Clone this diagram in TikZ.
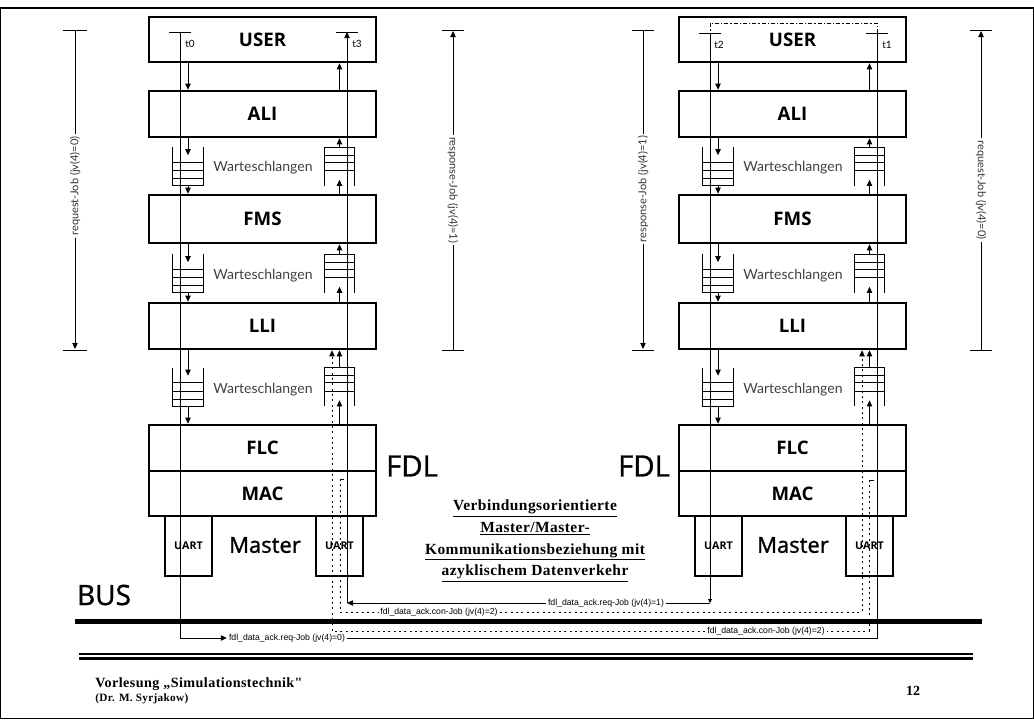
\documentclass[tikz,border=0pt]{standalone}
\usepackage{fontspec}
\setmainfont{Liberation Serif}
\newfontfamily\boxfont{Open Sans}
\newfontfamily\medfont[FakeBold=1.2]{Open Sans}
\newfontfamily\thinfont{Lato}
\newfontfamily\smallfont{Liberation Sans}
\newfontfamily\spacedserif[LetterSpace=3]{Liberation Serif}
\usetikzlibrary{arrows.meta,calc}
\tikzset{
  layer/.style={draw,line width=1.9pt,minimum width=170.25pt,inner sep=0pt,
    font=\boxfont\bfseries\fontsize{14}{16}\selectfont},
  uartbox/.style={draw,line width=1.9pt,minimum width=35.25pt,minimum height=45pt,inner sep=0pt,
    font=\boxfont\bfseries\fontsize{8}{9}\selectfont},
  qbox/.style={minimum width=22.5pt,minimum height=28.5pt,inner sep=0pt},
  thinln/.style={line width=0.75pt},
  arr/.style={thinln,-{Triangle[length=4.5pt,width=4pt]}},
  smallarr/.style={thinln,-{Triangle[length=3pt,width=3pt]}},
  dotln/.style={line width=0.75pt,dash pattern=on 1.5pt off 2.5pt},
  dotarr/.style={dotln,-{Triangle[length=4.5pt,width=4pt]}},
  dashdotln/.style={line width=0.7pt,dash pattern=on 3pt off 1.6pt on 0.8pt off 1.6pt},
  wq/.style={font=\thinfont\fontsize{10.5}{12}\selectfont,text=black!75,inner sep=0pt},
  tlab/.style={font=\thinfont\fontsize{7.5}{9}\selectfont,inner sep=0pt,anchor=west},
  joblab/.style={font=\smallfont\fontsize{6.5}{7}\selectfont,inner sep=1.5pt},
  annot/.style={font=\thinfont\fontsize{8.25}{10}\selectfont,text=black!80,inner sep=1.5pt},
  biglab/.style={font=\medfont\fontsize{#1}{#1}\selectfont,inner sep=0pt},
}
\newcommand\downqueue[1]{%
  \draw[thinln] (#1.north west) -- (#1.south west) -- (#1.south east) -- (#1.north east);
  \foreach \fr in {0.184,0.395,0.605}{\draw[thinln] ($(#1.south west)!\fr!(#1.north west)$) -- ($(#1.south east)!\fr!(#1.north east)$);}}
\newcommand\upqueue[1]{%
  \draw[thinln] (#1.south west) -- (#1.north west) -- (#1.north east) -- (#1.south east);
  \foreach \fr in {0.21,0.395,0.605}{\draw[thinln] ($(#1.north west)!\fr!(#1.south west)$) -- ($(#1.north east)!\fr!(#1.south east)$);}}
\newcommand\mystack[3]{%
\begin{scope}[shift={(#2,0)}]
 \node[layer,minimum height=33.75pt] (#1user) at (262.5,39.5) {USER};
 \node[layer,minimum height=34.5pt] (#1ali) at (262.5,114) {ALI};
 \node[layer,minimum height=36pt] (#1fms) at (262.5,219) {FMS};
 \node[layer,minimum height=34.5pt] (#1lli) at (262.5,326) {LLI};
 \node[uartbox] (#1uartA) at (188.5,546) {UART};
 \node[uartbox] (#1uartB) at (339.5,546) {UART};
 \node[layer,minimum height=34.5pt] (#1flc) at (262.5,448) {FLC};
 \node[layer,minimum height=33.75pt] (#1mac) at (262.5,493.5) {MAC};
 \node[qbox] (#1qa) at (188,166.5) {};
 \node[qbox] (#1qb) at (188,273.5) {};
 \node[qbox] (#1qc) at (188,387) {};
 \node[qbox] (#1pa) at (339.5,166.5) {};
 \node[qbox] (#1pb) at (339.5,273.5) {};
 \node[qbox] (#1pc) at (339.5,387) {};
 \node[wq] (#1wa) at (263,168) {Warteschlangen};
 \node[wq] (#1wb) at (263,276) {Warteschlangen};
 \node[wq] (#1wc) at (263,390) {Warteschlangen};
 \node[biglab=16.5] (#1master) at (#3,545) {Master};
\end{scope}
 \downqueue{#1qa}\downqueue{#1qb}\downqueue{#1qc}
 \upqueue{#1pa}\upqueue{#1pb}\upqueue{#1pc}
 \draw[arr] (#1user.south -| #1qa) -- (#1ali.north -| #1qa);
 \draw[arr] (#1ali.south -| #1qa) -- ($(#1qa.north)+(0,8)$);
 \draw[arr] (#1qa.south) -- (#1fms.north -| #1qa);
 \draw[arr] (#1fms.south -| #1qb) -- ($(#1qb.north)+(0,8)$);
 \draw[arr] (#1qb.south) -- (#1lli.north -| #1qb);
 \draw[arr] (#1lli.south -| #1qc) -- ($(#1qc.north)+(0,8)$);
 \draw[arr] (#1qc.south) -- (#1flc.north -| #1qc);
 \draw[arr] (#1flc.north -| #1pc) -- ($(#1pc.south)+(0,-6)$);
 \draw[arr] (#1pc.north) -- (#1lli.south -| #1pc);
 \draw[arr] (#1lli.north -| #1pb) -- ($(#1pb.south)+(0,-6)$);
 \draw[arr] (#1pb.north) -- (#1fms.south -| #1pb);
 \draw[arr] (#1fms.north -| #1pa) -- ($(#1pa.south)+(0,-6)$);
 \draw[arr] (#1pa.north) -- (#1ali.south -| #1pa);
 \draw[arr] (#1ali.north -| #1pa) -- (#1user.south -| #1pa);
}
\begin{document}
\begin{tikzpicture}[x=0.75pt,y=-0.75pt]
\useasboundingbox (0,0) rectangle (1034,719);
% frame
\draw[line width=2.2pt] (0,8) -- (1034,8);
\draw[line width=1pt] (0.5,8) -- (0.5,718.5) -- (1033.5,718.5) -- (1033.5,8);

\mystack{L}{0}{265}
\mystack{R}{530}{263}

% FDL, BUS
\node[biglab=22] (fdlL) at (412,466) {FDL};
\node[biglab=22] (fdlR) at (644,466) {FDL};
\node[biglab=21] (bus) at (104,595) {BUS};
\draw[line width=3.75pt] (75,621) -- (982,621);
\draw[line width=1pt] (79,654) -- (973,654);
\draw[line width=2.6pt] (79,658.5) -- (973,658.5);

% title
\node[font=\spacedserif\bfseries\fontsize{11.6}{16.3}\selectfont,align=center] (title) at (535,541)
 {\underline{Verbindungsorientierte}\\ \underline{Master/Master-}\\ \underline{Kommunikationsbeziehung mit}\\ \underline{azyklischem Datenverkehr}};

% footer
\node[font=\spacedserif\bfseries\fontsize{10.6}{12}\selectfont,anchor=west,inner sep=0pt] (foot1) at (95,684) {Vorlesung „Simulationstechnik"};
\node[font=\spacedserif\bfseries\fontsize{8.4}{9}\selectfont,anchor=west,inner sep=0pt] (foot2) at (95,699) {(Dr. M. Syrjakow)};
\node[font=\rmfamily\bfseries\fontsize{10.5}{12}\selectfont] (pg) at (913,691) {12};

% time markers
\coordinate (t0) at (180,32);
\coordinate (t3) at (347,32);
\coordinate (t2) at (710,33);
\coordinate (t1) at (877,33);
\foreach \tm in {t0,t3,t2,t1}{\draw[thinln] ($(\tm)+(-11,0)$) -- ($(\tm)+(11,0)$);}
\node[tlab] (lt0) at (185,44) {t0};
\node[tlab] (lt3) at (352,44) {t3};
\node[tlab] (lt2) at (714,45) {t2};
\node[tlab] (lt1) at (882,45) {t1};
\draw[dashdotln] (t1) -- ++(0,-10) -| (t2);

% request job
\coordinate (c0) at (180,638);
\coordinate (c1) at (877,638);
\node[joblab] (j0) at (287,638) {fdl\_data\_ack.req-Job (jv(4)=0)};
\draw[arr] (t0) -- (c0) -- (j0.west);
\draw[thinln] (j0.east) -- (c1) -- (t1);

% response job
\coordinate (c2) at (710,603);
\coordinate (c3) at (347,603);
\node[joblab] (j1) at (606,603) {fdl\_data\_ack.req-Job (jv(4)=1)};
\draw[smallarr] (t2) -- (c2);
\draw[thinln] (c2) -- (j1.east);
\draw[arr] (j1.west) -- (c3);
\draw[arr] (c3) -- (t3);

% con jobs (dotted)
\coordinate (m1) at (340,479);
\coordinate (m1b) at (340,612);
\coordinate (m1c) at (862,612);
\node[joblab] (j2) at (439,612) {fdl\_data\_ack.con-Job (jv(4)=2)};
\draw[dotln] (m1) -- (m1b) -- (j2.west);
\draw[dotarr] (j2.east) -- (m1c) -- (Rlli.south -| m1c);
\draw[thinln] (m1) -- ++(4,0);
\coordinate (m2) at (869,480);
\coordinate (m2b) at (869,631);
\coordinate (m2c) at (332,631);
\node[joblab] (j3) at (766,631) {fdl\_data\_ack.con-Job (jv(4)=2)};
\draw[dotln] (m2) -- (m2b) -- (j3.east);
\draw[dotarr] (j3.west) -- (m2c) -- (Llli.south -| m2c);
\draw[thinln] (m2) -- ++(5,0);

% side annotations
\node[annot,rotate=90] (a1) at (75,186) {request-Job (jv(4)=0)};
\draw[thinln] (63,30) -- (87,30);
\draw[thinln] (63,350) -- (87,350);
\draw[thinln] (75,30) -- (a1.east);
\draw[arr] (a1.west) -- (75,349);

\node[annot,rotate=-90] (a2) at (453,190) {response-Job (jv(4)=1)};
\draw[thinln] (442,30) -- (464,30);
\draw[thinln] (442,350) -- (464,350);
\draw[arr] (a2.west) -- (453,31);
\draw[thinln] (a2.east) -- (453,350);

\node[annot,rotate=90] (a3) at (643,189) {response-Job (jv(4)=1)};
\draw[thinln] (632,30) -- (654,30);
\draw[thinln] (632,350) -- (654,350);
\draw[thinln] (643,30) -- (a3.east);
\draw[arr] (a3.west) -- (643,349);

\node[annot,rotate=-90] (a4) at (981,190) {request-Job (jv(4)=0)};
\draw[thinln] (970,30) -- (992,30);
\draw[thinln] (970,350) -- (992,350);
\draw[arr] (a4.west) -- (981,31);
\draw[thinln] (a4.east) -- (981,350);
\end{tikzpicture}
\end{document}
